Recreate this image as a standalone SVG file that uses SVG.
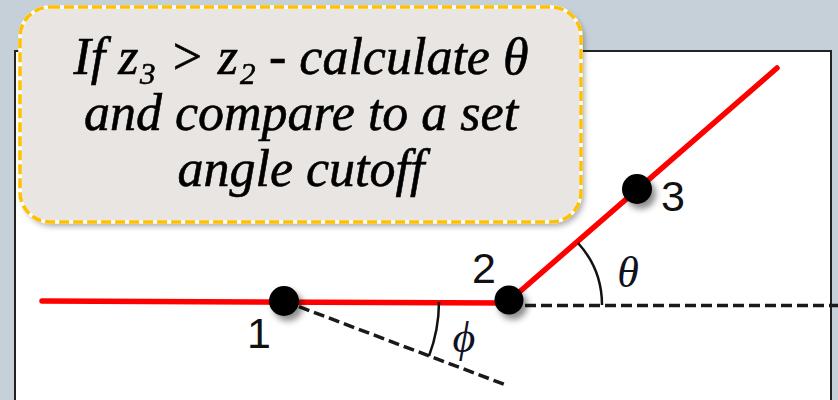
<svg xmlns="http://www.w3.org/2000/svg" width="838" height="400" viewBox="0 0 838 400">
  <defs>
    <filter id="dotShadow" x="-50%" y="-50%" width="220%" height="220%">
      <feDropShadow dx="4" dy="5" stdDeviation="3" flood-color="#000" flood-opacity="0.45"/>
    </filter>
    <filter id="boxShadow" x="-10%" y="-10%" width="120%" height="130%">
      <feDropShadow dx="3" dy="4" stdDeviation="3" flood-color="#000" flood-opacity="0.35"/>
    </filter>
  </defs>
  <style>
    .red { stroke: #ff0000; stroke-width: 5.5; stroke-linecap: round; fill: none; }
    .dash { stroke: #1a1a1a; stroke-width: 3.5; stroke-dasharray: 11 5; fill: none; }
    .arc { stroke: #111111; stroke-width: 2.5; fill: none; }
    .dot { fill: #000000; filter: url(#dotShadow); }
    .num { font-family: "Liberation Sans", Arial, sans-serif; font-size: 43px; fill: #111111; text-anchor: middle; }
    .greek { font-family: "Liberation Serif", "DejaVu Serif", serif; font-style: italic; font-size: 44px; fill: #111122; text-anchor: middle; }
    .call { font-family: "Liberation Serif", "DejaVu Serif", serif; font-style: italic; font-size: 52px; fill: #000000; stroke: #000000; stroke-width: 0.6; text-anchor: middle; }
  </style>

  <rect x="0" y="0" width="838" height="400" fill="#c5d0d8"/>
  <rect x="15" y="51" width="816" height="400" fill="#ffffff" stroke="#222222" stroke-width="2"/>

  <g id="connectors">
    <line class="dash" x1="509" y1="305.5" x2="838" y2="305.5"/>
    <line class="dash" x1="284" y1="301" x2="506" y2="385"/>
    <line class="red" x1="42" y1="301" x2="509" y2="303"/>
    <line class="red" x1="509" y1="301" x2="777" y2="68"/>
  </g>

  <g id="angles">
    <path class="arc" d="M 439 302 A 155 155 0 0 1 429 356"/>
    <path class="arc" d="M 578 243 A 92 92 0 0 1 602 305"/>
    <text class="greek" x="628" y="287">θ</text>
    <text class="greek" x="464" y="352">ϕ</text>
  </g>

  <g id="node-1">
    <circle class="dot" cx="284" cy="301" r="15"/>
    <text class="num" x="259" y="348">1</text>
  </g>
  <g id="node-2">
    <circle class="dot" cx="509" cy="300" r="14.5"/>
    <text class="num" x="484" y="283">2</text>
  </g>
  <g id="node-3">
    <circle class="dot" cx="637" cy="189" r="15"/>
    <text class="num" x="673" y="211">3</text>
  </g>

  <g id="callout">
    <rect x="20" y="7" width="561" height="215" rx="30" ry="30" fill="#e8e5e2" filter="url(#boxShadow)"/>
    <rect x="20" y="7" width="561" height="215" rx="30" ry="30" fill="none" stroke="#ffffff" stroke-width="3.5"/>
    <rect x="20" y="7" width="561" height="215" rx="30" ry="30" fill="none" stroke="#ffc000" stroke-width="3.5" stroke-dasharray="10 4"/>
    <text class="call" x="301" y="74">If z₃ &gt; z₂  - calculate θ</text>
    <text class="call" x="301" y="130">and compare to a set</text>
    <text class="call" x="301" y="186">angle cutoff</text>
  </g>
</svg>
